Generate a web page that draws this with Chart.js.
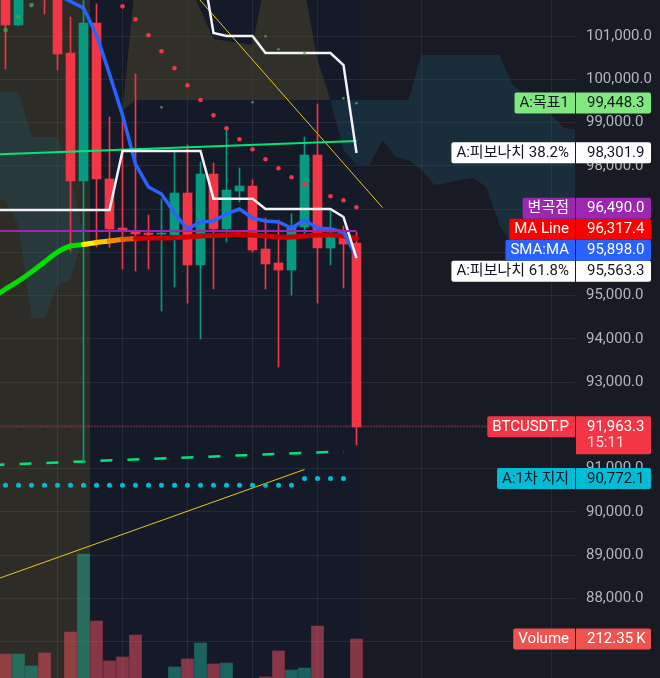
<!DOCTYPE html>
<html><head><meta charset="utf-8">
<script src="https://cdn.jsdelivr.net/npm/chart.js@4.4.1/dist/chart.umd.min.js"></script>
<style>html,body{margin:0;padding:0;background:#181b24;overflow:hidden}#wrap{width:660px;height:678px}</style>
</head><body><div id="wrap"><canvas id="c" width="660" height="678"></canvas></div>
<script>
// ---------------- DATA ----------------
const candles = [0,1,2,3,4,5,6,7,8,9,10,11,12,13,14,15,16,17,18,19,20,21,22,23,24,25,26,27];
const opens  = [102000,101254,102100,102700,102000,100607,97648,101300,97694,96561,96468,96445,96420,96399,97370,95706,97809,96538,97416,97532,96075,95752,95590,96584,98249,96099,96445,96214];
const highs  = [102200,102300,102800,102900,102200,101439,102050,101740,99127,99104,100121,96861,97231,98341,98480,98087,98064,98873,97948,97671,96792,96746,96885,98665,99428,97000,96607,96468];
const lows   = [100237,101240,101900,101508,100214,96029,91151,96122,96110,95613,95567,95613,94642,95197,94827,93995,95151,96237,97162,96006,95151,93347,95012,96376,94827,95706,95174,91544];
const closes = [101254,102100,102500,102000,100584,97648,101300,97694,96538,96520,96422,96410,96445,97370,95706,97809,96538,97439,97532,96052,95729,95590,96607,98249,96099,96445,96191,91963.3];
const volumesK = [161.5,161.5,120.7,164.9,70,236.1,500.9,273.5,137.7,151.3,225.9,55,48,117.3,144.5,198.8,127.5,130.9,60,75,83.4,171.6,107.2,113.9,256.5,65,72,212.35];

const priceTicks = [87000,88000,89000,90000,91000,92000,93000,94000,95000,96000,97000,98000,99000,100000,101000];

const smaIdx  = [4,5,6,7,8,9,10,11,12,13,14,15,16,17,18,19,20,21,22,23,24,25,26,27];
const smaVals = [101950,101802,101647,101023,100121,99173,98041,97509,97347,96908,96538,96700,96723,96885,97000,96792,96723,96700,96561,96746,96561,96538,96468,95898];

const maIdx  = [-1,0,1,2,3,4,5,6,7,8,9,10,11,12,13,14,15,16,17,18,19,20,21,22,23,24,25,26,27];
const maVals = [94945,95151,95336,95543,95775,96006,96145,96179,96226,96260,96295,96318,96330,96330,96341,96353,96376,96388,96399,96411,96399,96376,96353,96353,96376,96399,96399,96376,96317.4];

const chanLowIdx  = [-1,0,1,2,3,4,5,6,7,8,9,10,11,12,13,14,15,16,17,18,19,20,21,22,23,24,25,26,27];
const chanLowVals = [96977,96977,96977,96977,96977,96977,96977,96977,96977,96977,98341,98341,98341,98341,98341,98341,98341,97240,97240,97240,97240,97000,97000,97000,97000,97000,97000,96815,95867];
const chanHighIdx  = [14,15,16,17,18,19,20,21,22,23,24,25,26,27];
const chanHighVals = [103600,102870,101069,101000,101000,101000,100607,100607,100607,100607,100607,100607,100329,98295];

const trendGreenIdx = [-1,27];   const trendGreenVals = [98258,98572];
const pivotIdx = [-1,27];        const pivotVals = [96490,96490];
const supportDashIdx = [-1,26];  const supportDashVals = [91082,91396];
const trendAIdx = [14,29];       const trendAVals = [102160,97033];
const trendBIdx = [-1,23];       const trendBVals = [88407,90978];
const priceLineIdx = [-1,45];    const priceLineVals = [91963.3,91963.3];

const support1Idx  = [0,1,2,3,4,5,6,7,8,9,10,11,12,13,14,15,16,17,18,19,20,21,22,23,24,25,26];
const support1Vals = [90612,90612,90612,90612,90612,90612,90612,90612,90612,90612,90612,90612,90612,90612,90612,90612,90612,90612,90612,90612,90612,90612,90612,90772.1,90772.1,90772.1,90772.1];

const sarRedIdx  = [9,10,11,12,13,14,15,16,17,18,19,20,21,22,23,24,25,26,27];
const sarRedVals = [101686,101386,101016,100646,100253,99860,99520,99166,98866,98612,98380,98149,97941,97733,97571,97428,97294,97201,97040];
const sarGreenIdx  = [0,1,2];
const sarGreenVals = [101138,101439,101716];
const smallGreenIdx  = [12,19,20,21,23,26,27];
const smallGreenVals = [99351,99467,100993,100692,100600,99559,99444];

const tealIdx   = [-1,0,1,2,3,4,5,6];
const tealUpper = [99705,99705,99705,98665,98665,98665,97786,96399];
const tealLower = [97208,97208,96630,94480,94480,95243,95359,96399];
const oliveIdx   = [9,10,11,12,13,14,15,16,17,18,19,20,21,22,23,24,25];
const oliveUpper = [99283,102294,102294,102294,102294,102294,101601,100930,100884,100838,100792,102294,102294,102294,102063,100445,99520];
const oliveLower = [99283,99520,99520,99520,99520,99520,99520,99520,99520,99520,99520,99520,99520,99520,99520,99520,99520];
const blueIdx   = [25,26,27,28,29,30,31,32,33,34,35,36,37,38,39,40,41,42,43,44];
const blueUpper = [99520,99520,99520,99520,99520,99520,99520,100560,100560,100560,100560,100560,100560,100560,99867,99636,99520,99173,98873,98827];
const blueLower = [99520,98364,98018,98018,98595,98202,98133,97902,97555,97601,97671,97717,97509,96630,96168,96052,95937,95937,95867,95821];

const sessionEdges = [6.5, 27.5];
const timeGridIdx = [4,9,14,19,24,32,42];

const tagNames  = ['A:목표1','A:피보나치 38.2%','변곡점','MA Line','SMA:MA','A:피보나치 61.8%','BTCUSDT.P','A:1차 지지'];
const tagValues = [99448.3,98301.9,96490.0,96317.4,95898.0,95563.3,91963.3,90772.1];
const countdownText = '15:11';
const volumeTagName = 'Volume';
const volumeTagValue = 212.35;

// ---------------- STYLE / LAYOUT ----------------
const FONT = "Roboto, 'Noto Sans CJK KR', 'Noto Sans', sans-serif";
const FSIZE = 15;
const GRID = 'rgba(255,255,255,0.07)';
const UP = '#089981', DOWN = '#f23645';
const tagStyles = [
  {bg:'#81e87f', fg:'#131722'}, {bg:'#ffffff', fg:'#131722'}, {bg:'#9c27b0', fg:'#ffffff'},
  {bg:'#ff0000', fg:'#ffffff'}, {bg:'#2962ff', fg:'#ffffff'}, {bg:'#ffffff', fg:'#131722'},
  {bg:'#f23645', fg:'#ffffff'}, {bg:'#00bcd4', fg:'#131722'}];
const maSegColors = ['#00e000','#00e000','#00e000','#00e000','#00e000','#00e000','#00e000','#ffee00','#ffc800','#f08c00','#e85a00'];
const PLOT_W = 575, BAR_STEP = 13;
const xMin = -5.5 / BAR_STEP, xMax = xMin + PLOT_W / BAR_STEP;
const PX_PER_UNIT = 0.043254;
const yMax = 101000 + 36 / PX_PER_UNIT, yMin = yMax - 678 / PX_PER_UNIT;

const isUp = i => closes[i] >= opens[i];
const pts = (xs, ys) => xs.map((x, i) => ({x, y: ys[i]}));
const fmt = v => v.toLocaleString('en-US', {minimumFractionDigits:1, maximumFractionDigits:1});

const ds = [];
const add = d => { ds.push(d); return ds.length - 1; };
const L = (o) => Object.assign({type:'line', yAxisID:'y', pointRadius:0, borderWidth:2, tension:0, fill:false}, o);

// clouds
let lo = add(L({data: pts(tealIdx, tealLower), borderWidth:0, order:100}));
add(L({data: pts(tealIdx, tealUpper), borderWidth:0, fill:{target:lo}, backgroundColor:'rgba(30,90,110,0.3)', order:100}));
lo = add(L({data: pts(oliveIdx, oliveLower), borderWidth:0, order:100}));
add(L({data: pts(oliveIdx, oliveUpper), borderWidth:0, fill:{target:lo}, backgroundColor:'rgba(75,70,40,0.5)', order:100}));
lo = add(L({data: pts(blueIdx, blueLower), borderWidth:0, order:100}));
add(L({data: pts(blueIdx, blueUpper), borderWidth:0, fill:{target:lo}, backgroundColor:'rgba(30,90,110,0.3)', order:100}));

// volume
add({type:'bar', yAxisID:'yVol', data: pts(candles, volumesK), barThickness:12, grouped:false, borderWidth:0,
     backgroundColor: candles.map(i => isUp(i) ? 'rgba(34,171,148,0.5)' : 'rgba(247,82,95,0.5)'), order:90});

// trend lines
add(L({data: pts(trendAIdx, trendAVals), borderColor:'#e6c619', borderWidth:1, order:80}));
add(L({data: pts(trendBIdx, trendBVals), borderColor:'#e6c619', borderWidth:1, order:80}));
add(L({data: pts(priceLineIdx, priceLineVals), borderColor:'#f23645', borderWidth:1, borderDash:[1,2], order:75}));
add(L({data: pts(supportDashIdx, supportDashVals), borderColor:'#00e676', borderWidth:2.5, borderDash:[12,15], order:70}));
add(L({data: pts(support1Idx, support1Vals), showLine:false, pointRadius:2.5, pointBorderWidth:0, pointBackgroundColor:'#00bcd4', order:70}));

// candles
add({type:'bar', yAxisID:'y', data: candles.map(i => ({x:i, y:[lows[i], highs[i]]})), barThickness:1, grouped:false, borderWidth:0,
     backgroundColor: candles.map(i => isUp(i) ? UP : DOWN), order:60});
add({type:'bar', yAxisID:'y', data: candles.map(i => ({x:i, y:[opens[i], closes[i]]})), barThickness:9, grouped:false, borderWidth:0, minBarLength:1,
     backgroundColor: candles.map(i => isUp(i) ? UP : DOWN), order:59});

// indicator lines
add(L({data: pts(maIdx, maVals), borderWidth:5, tension:0.3, borderCapStyle:'round', borderColor:'#cc0000',
       segment:{borderColor: c => maSegColors[c.p0DataIndex] || '#cc0000'}, order:38}));
add(L({data: pts(smaIdx, smaVals), borderColor:'#2962ff', borderWidth:3.5, order:37}));
add(L({data: pts(trendGreenIdx, trendGreenVals), borderColor:'#00e676', borderWidth:2, order:36}));
add(L({data: pts(chanLowIdx, chanLowVals), borderColor:'#f2f2f7', borderWidth:2.5, order:35}));
add(L({data: pts(chanHighIdx, chanHighVals), borderColor:'#f2f2f7', borderWidth:2.5, order:35}));
add(L({data: pts(pivotIdx, pivotVals), borderColor:'#9c27b0', borderWidth:2, order:33}));

// dots
add(L({data: pts(sarRedIdx, sarRedVals), showLine:false, pointRadius:2.3, pointBorderWidth:0, pointBackgroundColor:'#f23645', order:10}));
add(L({data: pts(sarGreenIdx, sarGreenVals), showLine:false, pointRadius:2.4, pointBorderWidth:0, pointBackgroundColor:'rgba(67,160,71,0.85)', order:10}));
add(L({data: pts(smallGreenIdx, smallGreenVals), showLine:false, pointRadius:1.3, pointBorderWidth:0, pointBackgroundColor:'rgba(76,175,80,0.8)', order:10}));

// ---------------- PLUGINS ----------------
const bgPlugin = { id:'bg', beforeDraw(chart){
  const {ctx, chartArea:a, scales:{x}} = chart;
  ctx.save();
  ctx.fillStyle = '#181b24'; ctx.fillRect(0, 0, chart.width, chart.height);
  const e0 = x.getPixelForValue(sessionEdges[0]), e1 = x.getPixelForValue(sessionEdges[1]);
  ctx.fillStyle = '#2d2c27'; ctx.fillRect(a.left, a.top, e0 - a.left, a.bottom - a.top);
  ctx.fillStyle = '#151a29'; ctx.fillRect(e0, a.top, e1 - e0, a.bottom - a.top);
  ctx.restore();
}};

function rr(ctx, x, y, w, h, r){ ctx.beginPath(); if (ctx.roundRect) ctx.roundRect(x, y, w, h, r); else ctx.rect(x, y, w, h); ctx.fill(); }

function drawTag(ctx, a, name, valText, top, h, st, extra){
  const nameW = ctx.measureText(name).width + 11;
  ctx.fillStyle = st.bg;
  rr(ctx, a.right - nameW, top, nameW, 21, [2,0,0,2]);
  rr(ctx, a.right + 1, top, 75, h, [0,2,2,0]);
  ctx.fillStyle = st.fg;
  ctx.textAlign = 'left';
  ctx.fillText(name, a.right - nameW + 5, top + 11);
  ctx.fillText(valText, a.right + 12, top + 11);
  if (extra){ ctx.fillStyle = 'rgba(255,255,255,0.82)'; ctx.fillText(extra, a.right + 12, top + 27); }
}

const tagPlugin = { id:'tags', afterDraw(chart){
  const {ctx, chartArea:a, scales:{y, yVol}} = chart;
  ctx.save();
  ctx.font = FSIZE + 'px ' + FONT; ctx.textBaseline = 'middle';
  const items = tagValues.map((v, i) => ({i, v, yy: y.getPixelForValue(v), h: i === 6 ? 38 : 21}));
  items.sort((p, q) => q.yy - p.yy);
  let limit = Infinity;
  for (const it of items){ let top = it.yy - 10.5; if (top + it.h > limit) top = limit - it.h; it.top = top; limit = top; }
  for (const it of items){
    drawTag(ctx, a, tagNames[it.i], fmt(it.v), it.top, it.h, tagStyles[it.i], it.i === 6 ? countdownText : null);
  }
  const vy = yVol.getPixelForValue(volumeTagValue);
  drawTag(ctx, a, volumeTagName, volumeTagValue.toFixed(2) + '\u2009K', vy - 10.5, 21, {bg:'#ef5350', fg:'#ffffff'}, null);
  ctx.restore();
}};

const noPad = s => { s.paddingTop = 0; s.paddingBottom = 0; s.paddingLeft = 0; s.paddingRight = 0; };

Chart.defaults.font.family = FONT;
new Chart(document.getElementById('c'), {
  type: 'bar',
  data: { datasets: ds },
  options: {
    responsive:false, animation:false, events:[], devicePixelRatio:1,
    layout:{padding:0, autoPadding:false},
    plugins:{legend:{display:false}, tooltip:{enabled:false}},
    scales:{
      x:{ type:'linear', min:xMin, max:xMax, offset:false,
          grid:{color:GRID, drawTicks:false, offset:false}, border:{display:false},
          ticks:{display:false},
          afterBuildTicks: s => { s.ticks = timeGridIdx.map(v => ({value:v})); },
          afterFit: s => { s.height = 0; noPad(s); } },
      y:{ type:'linear', position:'right', min:yMin, max:yMax,
          grid:{color:GRID, drawTicks:false}, border:{display:false},
          ticks:{color:'#b2b5be', font:{size:FSIZE, family:FONT}, padding:11, autoSkip:false, callback: v => fmt(v)},
          afterBuildTicks: s => { s.ticks = priceTicks.map(v => ({value:v})); },
          afterFit: s => { s.width = 85; noPad(s); } },
      yVol:{ type:'linear', display:false, min:80, max:80 + 678 * 3.394 }
    }
  },
  plugins:[bgPlugin, tagPlugin]
});
</script></body></html>
